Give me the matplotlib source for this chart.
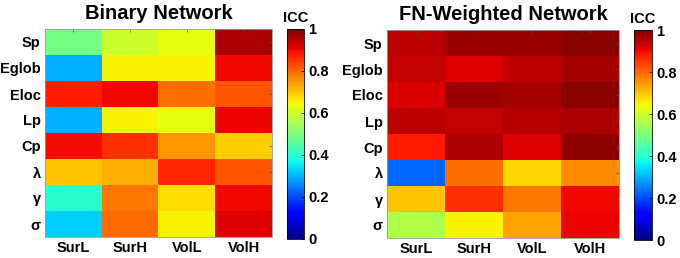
import numpy as np
import matplotlib
matplotlib.use('Agg')
import matplotlib.pyplot as plt

plt.rcParams['font.family'] = ['Liberation Sans', 'DejaVu Sans']
plt.rcParams['font.weight'] = 'bold'

# filas y columnas
metrics = ['Sp', 'Eglob', 'Eloc', 'Lp', 'Cp', 'λ', 'γ', 'σ']
conditions = ['SurL', 'SurH', 'VolL', 'VolH']

# ICC, red binaria
binary_icc = [
    [0.49, 0.595, 0.63, 0.96],
    [0.30, 0.65, 0.65, 0.90],
    [0.875, 0.90, 0.79, 0.82],
    [0.30, 0.65, 0.63, 0.905],
    [0.895, 0.856, 0.748, 0.69],
    [0.70, 0.726, 0.87, 0.82],
    [0.40, 0.783, 0.672, 0.90],
    [0.33, 0.794, 0.65, 0.916],
]

# ICC, red ponderada FN
weighted_icc = [
    [0.949, 0.978, 0.978, 0.99],
    [0.94, 0.916, 0.943, 0.967],
    [0.92, 0.974, 0.963, 0.99],
    [0.949, 0.94, 0.95, 0.96],
    [0.88, 0.96, 0.916, 0.985],
    [0.225, 0.79, 0.68, 0.76],
    [0.70, 0.856, 0.783, 0.90],
    [0.56, 0.65, 0.735, 0.905],
]

W, H = 680, 258
fig = plt.figure(figsize=(W / 100, H / 100), dpi=100)


def panel(data, title, ax_box, cb_box):
    x0, y0, x1, y1 = ax_box
    ax = fig.add_axes([x0 / W, 1 - y1 / H, (x1 - x0) / W, (y1 - y0) / H])
    im = ax.imshow(np.array(data), cmap='jet', vmin=0, vmax=1, aspect='auto')
    ax.set_xticks(range(len(conditions)))
    ax.set_xticklabels(conditions, fontsize=10.5, fontweight='bold')
    ax.set_yticks(range(len(metrics)))
    ax.set_yticklabels(metrics, fontsize=10.5, fontweight='bold')
    ax.tick_params(length=2, direction='in', width=0.5, color='#555555',
                   top=True, right=True, bottom=False, left=False)
    ax.tick_params(axis='x', pad=3)
    ax.tick_params(axis='y', pad=3)
    for s in ax.spines.values():
        s.set_color('#999999')
        s.set_linewidth(0.6)
    ax.set_title(title, fontsize=14.5, fontweight='bold', pad=7)

    c0, cy0, c1, cy1 = cb_box
    cax = fig.add_axes([c0 / W, 1 - cy1 / H, (c1 - c0) / W, (cy1 - cy0) / H])
    cb = fig.colorbar(im, cax=cax, ticks=[0, 0.2, 0.4, 0.6, 0.8, 1])
    cb.ax.set_yticklabels(['0', '0.2', '0.4', '0.6', '0.8', '1'], fontsize=10.5, fontweight='bold')
    cb.ax.tick_params(length=2, direction='in', width=0.5, pad=3)
    cb.outline.set_linewidth(0.6)
    cax.text(0.5, 1.02, 'ICC', transform=cax.transAxes, ha='center', va='bottom',
             fontsize=10.5, fontweight='bold')


panel(binary_icc, 'Binary Network', (45, 29, 272, 237), (287, 29, 304, 239))
panel(weighted_icc, 'FN-Weighted Network', (387, 30, 619, 238), (634, 30, 652, 240))

fig.savefig('out.png', dpi=100)
